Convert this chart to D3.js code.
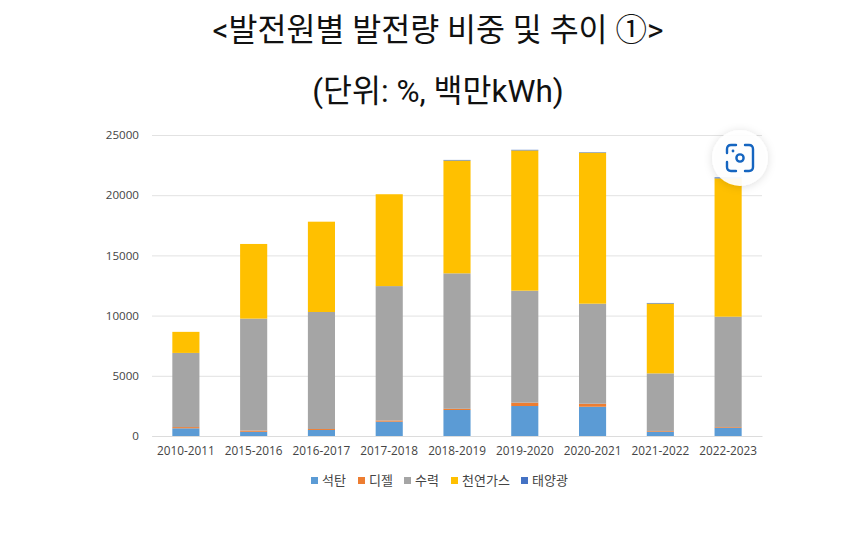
<!DOCTYPE html>
<html><head><meta charset="utf-8">
<script src="https://cdn.jsdelivr.net/npm/d3@7/dist/d3.min.js"></script>
<style>html,body{margin:0;padding:0;background:#fff}svg{display:block}</style>
</head><body><svg id="c" width="851" height="544"></svg>
<script>
const categories=["2010-2011","2015-2016","2016-2017","2017-2018","2018-2019","2019-2020","2020-2021","2021-2022","2022-2023"];
const seriesNames=["석탄","디젤","수력","천연가스","태양광"];
const seriesColors=["#5b9bd5","#ed7d31","#a5a5a5","#ffc000","#4472c4"];
const coal=[640,350,500,1190,2160,2490,2430,360,690];
const diesel=[100,100,80,100,100,280,250,60,60];
const hydro=[6160,9300,9720,11160,11250,9300,8310,4780,9160];
const gas=[1750,6200,7500,7630,9370,11650,12540,5800,11490];
const solar=[0,0,0,0,50,50,40,50,80];
const yTicks=[0,5000,10000,15000,20000,25000];
const titleLines=["<발전원별 발전량 비중 및 추이 ①>","(단위: %, 백만kWh)"];

const columns=[coal,diesel,hydro,gas,solar];
const rows=categories.map((c,i)=>{const r={c};seriesNames.forEach((n,k)=>r[n]=columns[k][i]);return r;});
const svg=d3.select("#c");
const font="'Noto Sans CJK KR','Noto Sans',sans-serif";
const x=d3.scaleBand().domain(categories).range([152,762]).paddingInner(0.6).paddingOuter(0.3);
const y=d3.scaleLinear().domain([0,25000]).range([436,135]);

svg.selectAll("text.title").data(titleLines).join("text").attr("class","title")
 .attr("x",438).attr("y",(d,i)=>i?102:41).attr("text-anchor","middle")
 .attr("font-family","Roboto,'Noto Sans CJK KR',sans-serif").attr("font-size",31.5).attr("fill","#111").text(d=>d);

const gy=svg.append("g").attr("transform","translate(152,0)").call(d3.axisLeft(y).tickValues(yTicks).tickSize(-610).tickFormat(d3.format("d")).tickPadding(13));
gy.select(".domain").remove();
gy.selectAll("line").attr("stroke","#e2e2e2");
gy.selectAll("text").attr("font-family","'Open Sans',sans-serif").attr("font-size",11.6).attr("fill","#444");

const gx=svg.append("g").attr("transform","translate(0,436)").call(d3.axisBottom(x).tickSize(0).tickPadding(11));
gx.select(".domain").attr("stroke","#dcdcdc");
gx.selectAll("text").attr("font-family","'Open Sans',sans-serif").attr("font-size",11.8).attr("fill","#444");

const stack=d3.stack().keys(seriesNames)(rows);
svg.selectAll("g.s").data(stack).join("g").attr("class","s").attr("fill",(d,i)=>seriesColors[i])
 .selectAll("rect").data(d=>d).join("rect")
 .attr("x",d=>x(d.data.c)).attr("width",x.bandwidth())
 .attr("y",d=>y(d[1])).attr("height",d=>y(d[0])-y(d[1]));

// legend
const legendX=[311,358,404,451,521];
const lg=svg.selectAll("g.l").data(seriesNames).join("g").attr("class","l").attr("transform",(d,i)=>`translate(${legendX[i]},480)`);
lg.append("rect").attr("y",-3).attr("width",7).attr("height",7).attr("fill",(d,i)=>seriesColors[i]);
lg.append("text").attr("x",11).attr("y",4.5).attr("font-family",font).attr("font-size",13).attr("fill","#444").text(d=>d);

// lens overlay button
const defs=svg.append("defs");
const f=defs.append("filter").attr("id","sh").attr("x","-30%").attr("y","-30%").attr("width","160%").attr("height","160%");
f.append("feDropShadow").attr("dx",0).attr("dy",1).attr("stdDeviation",4).attr("flood-color","#000").attr("flood-opacity",0.14);
const b=svg.append("g").attr("transform","translate(740,158)");
b.append("circle").attr("r",28).attr("fill","#fff").attr("fill-opacity",0.93).attr("filter","url(#sh)");
b.append("path").attr("d","M-4,-13H-9Q-13,-13 -13,-9V-5M5,-13H9Q13,-13 13,-9V9Q13,13 9,13H5M-13,4V9Q-13,13 -9,13H-4")
 .attr("fill","none").attr("stroke","#1565c0").attr("stroke-width",2.4).attr("stroke-linecap","round");
b.append("circle").attr("r",3.6).attr("cy",0).attr("fill","none").attr("stroke","#1565c0").attr("stroke-width",2.4);
b.append("circle").attr("r",1.4).attr("cx",-7).attr("cy",-7).attr("fill","#1565c0");
</script></body></html>
